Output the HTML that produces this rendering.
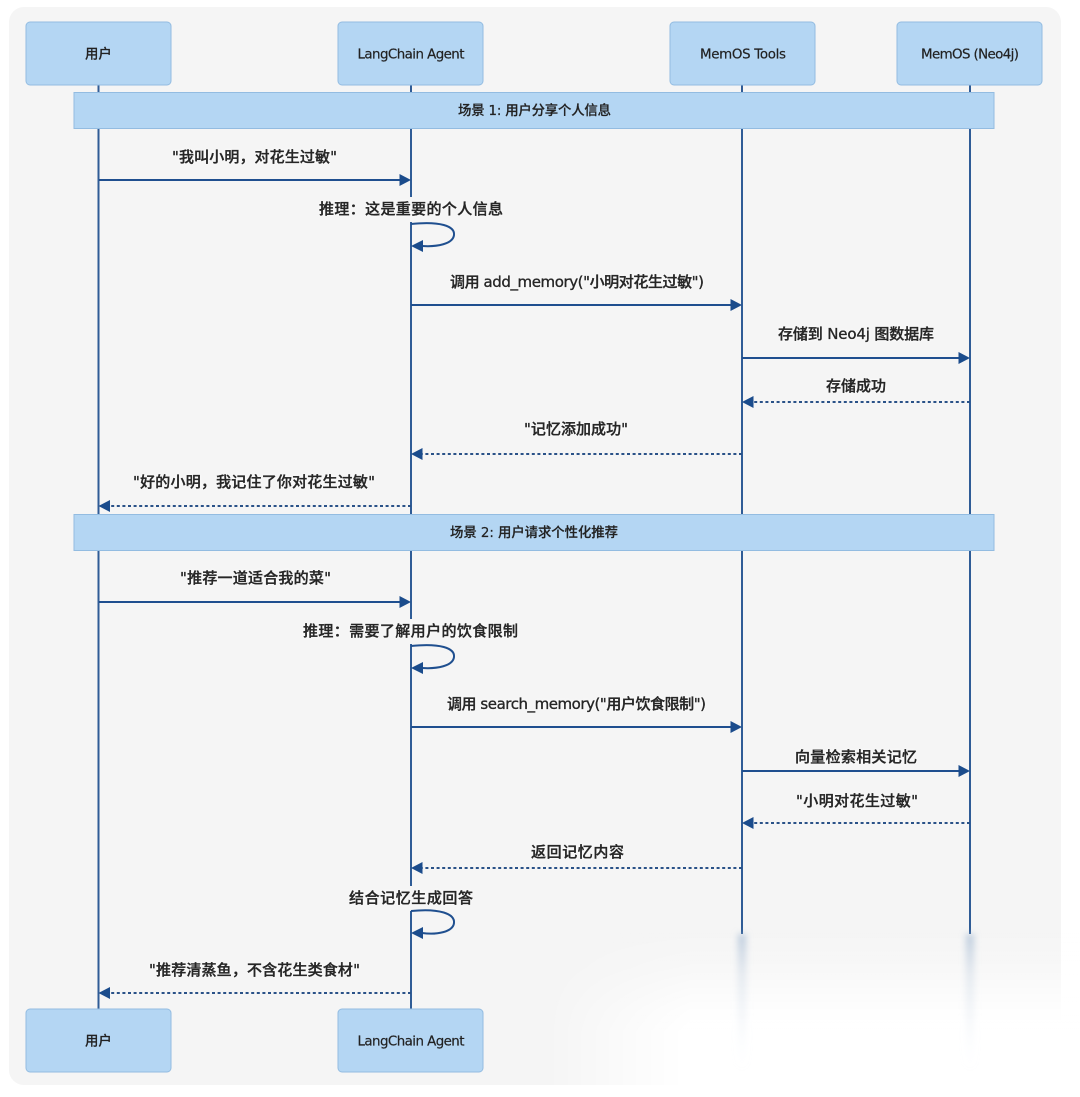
<!DOCTYPE html>
<html><head><meta charset="utf-8"><style>
html,body{margin:0;padding:0;background:#fff}
svg{display:block}
text{font-family:"DejaVu Sans","Noto Sans CJK SC",sans-serif;fill:#262626;text-anchor:start;font-weight:500}
.m{font-size:15px;stroke:#262626;stroke-width:.35px;filter:drop-shadow(0 0 1.5px #fff)}
.n{font-size:13.4px;fill:#222;stroke:#222;stroke-width:.2px}
.l{stroke:#2f5c96;stroke-width:2;fill:none}
.a{stroke:#1f4f8f;stroke-width:2;fill:none}
.d{stroke:#2a5288;stroke-width:2;fill:none;stroke-dasharray:3 2.6}
.h{fill:#1b4c8c}
.b{fill:#b4d6f3;stroke:#93bce1;stroke-width:1}
</style></head><body>
<svg width="1080" height="1097" viewBox="0 0 1080 1097" xmlns="http://www.w3.org/2000/svg">
<defs>
<linearGradient id="fv" x1="0" y1="0" x2="0" y2="1"><stop offset="0" stop-color="#fff" stop-opacity="0"/><stop offset=".25" stop-color="#fff" stop-opacity=".3"/><stop offset=".5" stop-color="#fff" stop-opacity=".85"/><stop offset=".62" stop-color="#fff"/><stop offset="1" stop-color="#fff"/></linearGradient>
<linearGradient id="fh" x1="0" y1="0" x2="1" y2="0"><stop offset="0" stop-color="#000"/><stop offset=".28" stop-color="#fff"/><stop offset="1" stop-color="#fff"/></linearGradient>
<mask id="mk" maskUnits="userSpaceOnUse" x="540" y="925" width="540" height="172"><rect x="540" y="925" width="540" height="172" fill="url(#fh)"/></mask>
<linearGradient id="ll" x1="0" y1="0" x2="0" y2="1"><stop offset="0" stop-color="#9ab2ce" stop-opacity=".65"/><stop offset=".3" stop-color="#c2d0e0" stop-opacity=".4"/><stop offset="1" stop-color="#e4edf6" stop-opacity="0"/></linearGradient>
<filter id="bl" x="-300%" width="700%" y="-5%" height="110%"><feGaussianBlur stdDeviation="3.500"/></filter>
</defs>
<rect x="0" y="0" width="1080" height="1097" fill="#fff"/>
<rect x="9" y="7" width="1052" height="1078" rx="15" fill="#f5f5f5"/>
<rect x="540" y="925" width="540" height="172" fill="url(#fv)" mask="url(#mk)"/>

<!-- lifelines -->
<path class="l" d="M98.500 85V1009M411 85V197M411 222V619M411 644V886M411 911V1009M742 85V934M970 85V934"/>
<rect x="738" y="934" width="8" height="135" fill="url(#ll)" filter="url(#bl)"/>
<rect x="966" y="934" width="8" height="135" fill="url(#ll)" filter="url(#bl)"/>

<!-- actors -->
<rect class="b" x="26" y="22" width="145" height="63" rx="4"/>
<rect class="b" x="338" y="22" width="145" height="63" rx="4"/>
<rect class="b" x="670" y="22" width="145" height="63" rx="4"/>
<rect class="b" x="897" y="22" width="145" height="63" rx="4"/>
<rect class="b" x="26" y="1009" width="145" height="63" rx="4"/>
<rect class="b" x="338" y="1009" width="145" height="63" rx="4"/>
<text class="n" x="85" y="58.500">用户</text>
<text class="n" x="357.500" y="58.500" textLength="107">LangChain Agent</text>
<text class="n" x="700" y="58.500" textLength="86">MemOS Tools</text>
<text class="n" x="921" y="58.500" textLength="98">MemOS (Neo4j)</text>
<text class="n" x="85" y="1045.500">用户</text>
<text class="n" x="357.500" y="1045.500" textLength="107">LangChain Agent</text>

<!-- notes -->
<rect class="b" x="74" y="92.500" width="920" height="36"/>
<rect class="b" x="74" y="514.500" width="920" height="36"/>
<text class="n" x="458" y="115" textLength="153">场景 1: 用户分享个人信息</text>
<text class="n" x="450" y="537" textLength="168">场景 2: 用户请求个性化推荐</text>

<!-- messages -->
<text class="m" x="172" y="162" textLength="165">"我叫小明&#xFF0C;对花生过敏"</text>
<path class="a" d="M99 180H402"/><path class="h" d="M411 180L399.500 174V186Z"/>

<text class="m" x="319" y="214" textLength="184">推理&#xFF1A;这是重要的个人信息</text>
<path class="a" d="M411 224C440 221 455 226 454 235C453 244 437 247 422 246"/><path class="h" d="M411 246L423 240V252Z"/>

<text class="m" x="450" y="287" textLength="254">调用 add_memory("小明对花生过敏")</text>
<path class="a" d="M411 305H733"/><path class="h" d="M742 305L730.500 299V311Z"/>

<text class="m" x="778" y="339" textLength="156">存储到 Neo4j 图数据库</text>
<path class="a" d="M742 358H961"/><path class="h" d="M970 358L958.500 352V364Z"/>

<text class="m" x="826" y="391" textLength="60">存储成功</text>
<path class="d" d="M970 402H752"/><path class="h" d="M742 402L753.500 396V408Z"/>

<text class="m" x="524" y="434" textLength="104">"记忆添加成功"</text>
<path class="d" d="M742 454H421"/><path class="h" d="M411 454L422.500 448V460Z"/>

<text class="m" x="133" y="487" textLength="242">"好的小明&#xFF0C;我记住了你对花生过敏"</text>
<path class="d" d="M411 506H109"/><path class="h" d="M98.500 506L110 500V512Z"/>

<text class="m" x="180" y="583" textLength="151">"推荐一道适合我的菜"</text>
<path class="a" d="M99 602H402"/><path class="h" d="M411 602L399.500 596V608Z"/>

<text class="m" x="303" y="636" textLength="215">推理&#xFF1A;需要了解用户的饮食限制</text>
<path class="a" d="M411 646C440 643 455 648 454 657C453 666 437 669 422 668"/><path class="h" d="M411 668L423 662V674Z"/>

<text class="m" x="447" y="709" textLength="259">调用 search_memory("用户饮食限制")</text>
<path class="a" d="M411 727H733"/><path class="h" d="M742 727L730.500 721V733Z"/>

<text class="m" x="795" y="762" textLength="122">向量检索相关记忆</text>
<path class="a" d="M742 771H961"/><path class="h" d="M970 771L958.500 765V777Z"/>

<text class="m" x="796" y="806" textLength="122">"小明对花生过敏"</text>
<path class="d" d="M970 823H752"/><path class="h" d="M742 823L753.500 817V829Z"/>

<text class="m" x="531" y="857" textLength="93">返回记忆内容</text>
<path class="d" d="M742 868H421"/><path class="h" d="M411 868L422.500 862V874Z"/>

<text class="m" x="349" y="903" textLength="124">结合记忆生成回答</text>
<path class="a" d="M411 911C440 908 455 914 454 923C453 932 437 935 422 933"/><path class="h" d="M411 933L423 927V939Z"/>

<text class="m" x="149" y="975" textLength="211">"推荐清蒸鱼&#xFF0C;不含花生类食材"</text>
<path class="d" d="M411 993H109"/><path class="h" d="M98.500 993L110 987V999Z"/>
</svg>
</body></html>
